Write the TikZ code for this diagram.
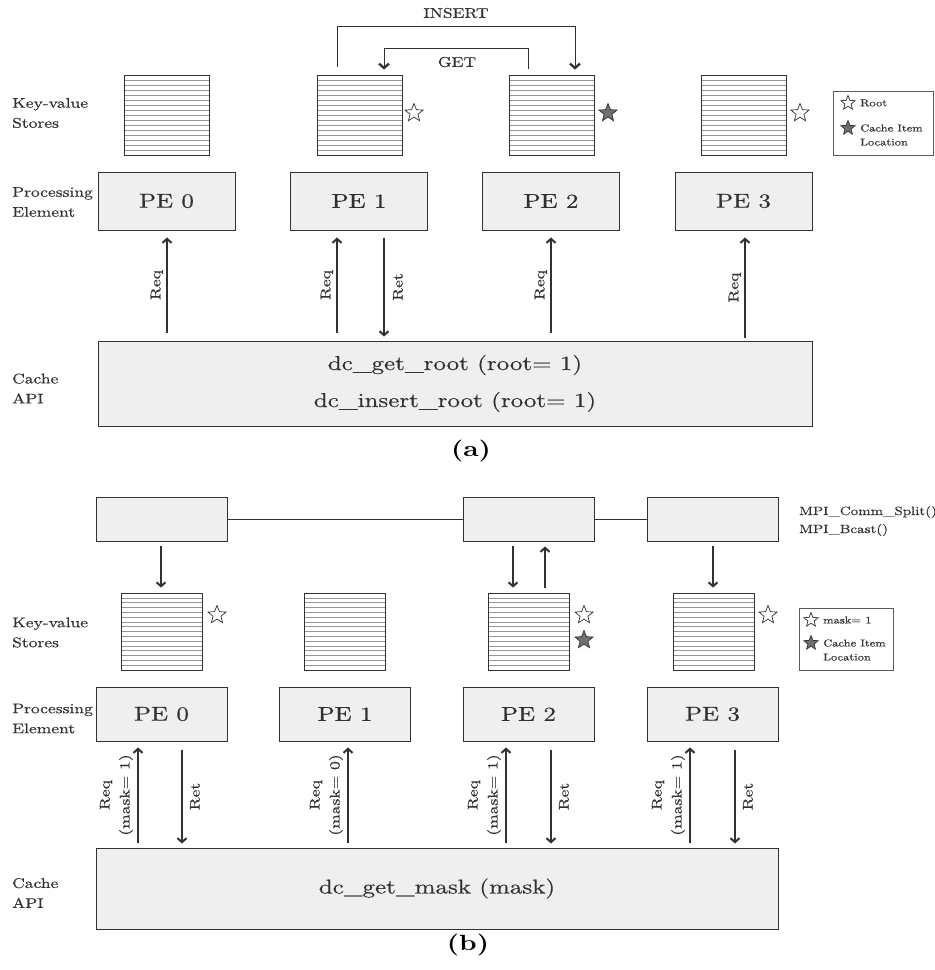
\documentclass[tikz,border=0pt]{standalone}
\usepackage{fontspec}
\setmainfont{lmroman10-regular.otf}[BoldFont=lmroman10-bold.otf, FakeStretch=1.25,
  UprightFeatures={FakeBold=0.4}]
\usetikzlibrary{arrows.meta,calc,shapes.geometric}

\definecolor{boxfill}{RGB}{238,239,238}
\definecolor{edge}{RGB}{52,48,48}
\definecolor{rule}{RGB}{150,150,150}
\definecolor{starfill}{RGB}{112,112,112}

\tikzset{
  pe/.style={draw=edge, fill=boxfill, line width=1pt, text=edge,
    font=\fontsize{20}{24}\selectfont},
  kv/.style 2 args={draw=edge, fill=white, line width=0.8pt,
    minimum width=#1, minimum height=#2, inner sep=0pt,
    path picture={\foreach \k in {1,...,15}
      \draw[rule, line width=0.6pt]
        ([yshift=-\k*#2/16]path picture bounding box.north west) --
        ([yshift=-\k*#2/16]path picture bounding box.north east);}},
  ostar/.style={star, star points=5, star point ratio=2.3, minimum size=19pt,
    inner sep=0pt, draw=edge, fill=white, line width=0.7pt},
  fstar/.style={ostar, fill=starfill},
  lbl/.style={font=\fontsize{14}{20}\selectfont, text=edge, align=left, inner sep=0pt},
  legtxt/.style={font=\fontsize{10}{14}\selectfont, text=edge, align=left, inner sep=0pt},
  legbox/.style={draw=edge!80, line width=0.6pt, inner sep=0pt},
  api/.style={draw=edge, fill=boxfill, line width=1pt, text=edge, align=center},
  arr/.style={draw=edge, line width=2pt, -{Straight Barb[length=4pt,width=9pt]}},
  flow/.style={draw=edge, line width=0.9pt,
    -{Straight Barb[length=4.5pt,width=10pt,line width=1.4pt 1]}},
  caption/.style={font=\fontsize{22}{26}\selectfont\bfseries}
}

\begin{document}
\begin{tikzpicture}[x=1pt, y=-1pt]
\useasboundingbox (0,0) rectangle (935,970);

% ---------- (a) ----------
\node[lbl] (kvtxta) at (12,113) [anchor=west] {Key-value\\Stores};
\node[lbl] (petxta) at (12,202) [anchor=west] {Processing\\Element};
\node[lbl] (apitxta) at (12,388.5) [anchor=west] {Cache\\API};

\node[kv={85pt}{80pt}] (kv0a) at (166.5,115) {};
\node[kv={85pt}{80pt}] (kv1a) at (359.5,115) {};
\node[kv={85pt}{80pt}] (kv2a) at (551.5,115) {};
\node[kv={85pt}{80pt}] (kv3a) at (744,115) {};

\node[ostar] (st1a) at (414,113) {};
\node[fstar] (st2a) at (608,113) {};
\node[ostar] (st3a) at (800,113) {};

\node[pe, minimum width=137pt, minimum height=58pt] (pe0a) at (166.5,201) {PE 0};
\node[pe, minimum width=137pt, minimum height=58pt] (pe1a) at (359,201) {PE 1};
\node[pe, minimum width=137pt, minimum height=58pt] (pe2a) at (551,201) {PE 2};
\node[pe, minimum width=137pt, minimum height=58pt] (pe3a) at (743.5,201) {PE 3};

\node[api, minimum width=714pt, minimum height=85pt,
  font=\fontsize{20}{37}\selectfont] (apia) at (455,383.5)
  {dc\_get\_root (root= 1)\\dc\_insert\_root (root= 1)};

% INSERT / GET
\node[lbl] (insert) at (456,13) {INSERT};
\node[lbl] (get) at (457,62) {GET};
\draw[flow] ($(kv1a.north)+(-22.5,-8)$) -- ++(0,-40) -| ($(kv2a.north)+(23.5,-5)$);
\draw[flow] ($(kv2a.north)+(-23.5,-6)$) -- ++(0,-20) -| ($(kv1a.north)+(24.5,-5)$);

% requests
\draw[arr] ($(pe0a.south |- apia.north)+(0.5,-8)$) -- ($(pe0a.south)+(0.5,7)$)
  node[midway, rotate=90, anchor=south, lbl, inner sep=3pt] {Req};
\draw[arr] ($(pe1a.south |- apia.north)+(-22,-8)$) -- ($(pe1a.south)+(-22,7)$)
  node[midway, rotate=90, anchor=south, lbl, inner sep=3pt] {Req};
\draw[arr] ($(pe1a.south)+(25,7)$) -- ($(pe1a.south |- apia.north)+(25,-4)$)
  node[midway, rotate=90, anchor=north, lbl, inner sep=8pt] {Ret};
\draw[arr] ($(pe2a.south |- apia.north)+(0,-8)$) -- ($(pe2a.south)+(0,7)$)
  node[midway, rotate=90, anchor=south, lbl, inner sep=3pt] {Req};
\draw[arr] ($(pe3a.south |- apia.north)+(1.5,-3)$) -- ($(pe3a.south)+(1.5,7)$)
  node[midway, rotate=90, anchor=south, lbl, inner sep=3pt] {Req};

% legend
\node[legbox, minimum width=100pt, minimum height=64pt] (lega) at (883,123) {};
\node[ostar, minimum size=15pt] (lsta) at (848,103) {};
\node[legtxt] (lroot) at (860,103) [anchor=west] {Root};
\node[fstar, minimum size=15pt] (lfsta) at (848,128) {};
\node[legtxt] (lcachea) at (860,135) [anchor=west] {Cache Item\\Location};

\node[caption] (capa) at (471,451) {(a)};

% ---------- (b) ----------
\node[pe, minimum width=131pt, minimum height=44pt] (mpi0) at (161.5,519) {};
\node[pe, minimum width=131pt, minimum height=44pt] (mpi2) at (528.5,519) {};
\node[pe, minimum width=131pt, minimum height=44pt] (mpi3) at (712.5,519) {};
\draw[draw=edge, line width=0.8pt] (mpi0.east) -- (mpi2.west);
\draw[draw=edge, line width=0.8pt] (mpi2.east) -- (mpi3.west);
\node[lbl, font=\fontsize{12}{18}\selectfont] (mpitxt) at (799,521) [anchor=west]
  {MPI\_Comm\_Split()\\MPI\_Bcast()};

\node[lbl] (kvtxtb) at (12,632.5) [anchor=west] {Key-value\\Stores};
\node[lbl] (petxtb) at (12,718.5) [anchor=west] {Processing\\Element};
\node[lbl] (apitxtb) at (12,893) [anchor=west] {Cache\\API};

\node[kv={81pt}{77pt}] (kv0b) at (161.5,631.5) {};
\node[kv={81pt}{77pt}] (kv1b) at (345,631.5) {};
\node[kv={81pt}{77pt}] (kv2b) at (528.5,631.5) {};
\node[kv={81pt}{77pt}] (kv3b) at (713.5,631.5) {};

\draw[arr] ($(mpi0.south)+(-0.5,4)$) -- ($(kv0b.north)+(-0.5,-5)$);
\draw[arr] ($(mpi2.south)+(-15.5,4)$) -- ($(kv2b.north)+(-15.5,-5)$);
\draw[arr] ($(kv2b.north)+(16.5,-5)$) -- ($(mpi2.south)+(16.5,5)$);
\draw[arr] ($(mpi3.south)+(0.5,4)$) -- ($(kv3b.north)+(-0.5,-5)$);

\node[ostar] (st0b) at (217,615) {};
\node[ostar] (st2b) at (584,615) {};
\node[fstar] (fst2b) at (584,640) {};
\node[ostar] (st3b) at (768,615) {};

\node[pe, minimum width=131pt, minimum height=54pt] (pe0b) at (161.5,714) {PE 0};
\node[pe, minimum width=131pt, minimum height=54pt] (pe1b) at (345,714) {PE 1};
\node[pe, minimum width=131pt, minimum height=54pt] (pe2b) at (528.5,714) {PE 2};
\node[pe, minimum width=131pt, minimum height=54pt] (pe3b) at (712.5,714) {PE 3};

\node[api, minimum width=682pt, minimum height=81pt,
  font=\fontsize{20}{24}\selectfont] (apib) at (437,888.5) {dc\_get\_mask (mask)};

\draw[arr] ($(pe0b.south |- apib.north)+(-23.5,-5)$) -- ($(pe0b.south)+(-23.5,6)$)
  node[midway, rotate=90, anchor=south, lbl, align=center, inner sep=4pt] {Req\\(mask= 1)};
\draw[arr] ($(pe0b.south)+(20.5,8)$) -- ($(pe0b.south |- apib.north)+(20.5,-4)$)
  node[midway, rotate=90, anchor=north, lbl, inner sep=7pt] {Ret};
\draw[arr] ($(pe1b.south |- apib.north)+(3,-5)$) -- ($(pe1b.south)+(3,6)$)
  node[midway, rotate=90, anchor=south, lbl, align=center, inner sep=4pt] {Req\\(mask= 0)};
\draw[arr] ($(pe2b.south |- apib.north)+(-22.5,-5)$) -- ($(pe2b.south)+(-22.5,6)$)
  node[midway, rotate=90, anchor=south, lbl, align=center, inner sep=4pt] {Req\\(mask= 1)};
\draw[arr] ($(pe2b.south)+(22.5,8)$) -- ($(pe2b.south |- apib.north)+(22.5,-4)$)
  node[midway, rotate=90, anchor=north, lbl, inner sep=7pt] {Ret};
\draw[arr] ($(pe3b.south |- apib.north)+(-22.5,-5)$) -- ($(pe3b.south)+(-22.5,6)$)
  node[midway, rotate=90, anchor=south, lbl, align=center, inner sep=4pt] {Req\\(mask= 1)};
\draw[arr] ($(pe3b.south)+(22.5,8)$) -- ($(pe3b.south |- apib.north)+(22.5,-4)$)
  node[midway, rotate=90, anchor=north, lbl, inner sep=7pt] {Ret};

% legend
\node[legbox, minimum width=94pt, minimum height=62pt] (legb) at (846,639) {};
\node[ostar, minimum size=15pt] (lstb) at (811,620) {};
\node[legtxt] (lmask) at (823,620) [anchor=west] {mask= 1};
\node[fstar, minimum size=15pt] (lfstb) at (811,643) {};
\node[legtxt] (lcacheb) at (823,650) [anchor=west] {Cache Item\\Location};

\node[caption] (capb) at (468,945) {(b)};
\end{tikzpicture}
\end{document}
